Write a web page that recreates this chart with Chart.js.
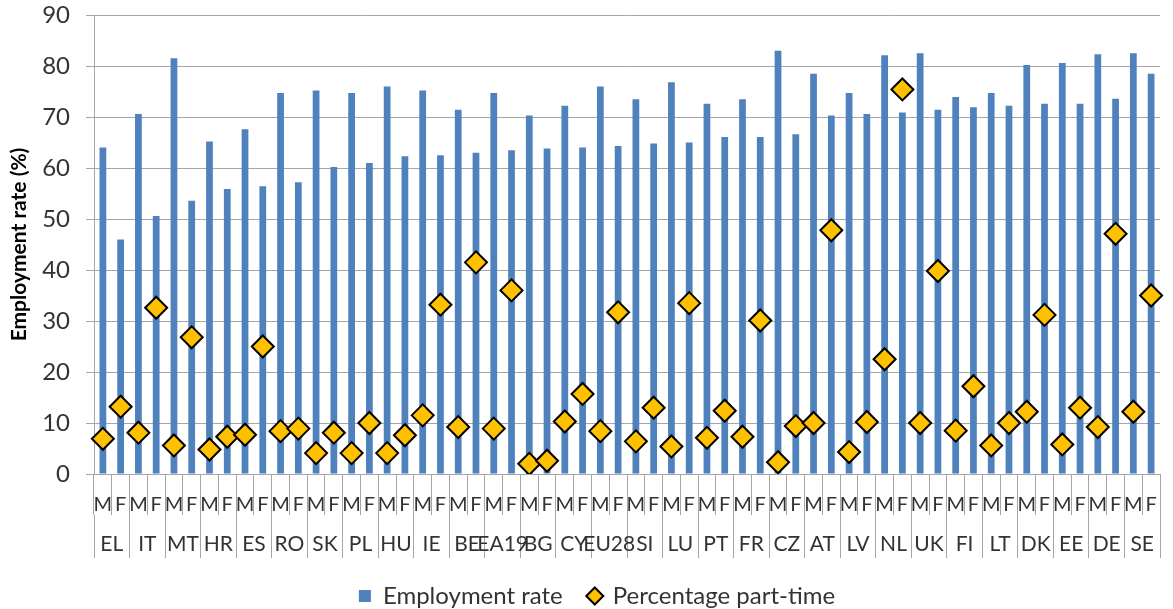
<!DOCTYPE html>
<html>
<head>
<meta charset="utf-8">
<script src="https://cdn.jsdelivr.net/npm/chart.js@4/dist/chart.umd.min.js"></script>
<style>
  html, body { margin: 0; padding: 0; background: #ffffff; }
  canvas { display: block; }
</style>
</head>
<body>
<canvas id="chart" width="1173" height="609"></canvas>
<script>
// Countries, ordered by female employment rate
const countries = ['EL','IT','MT','HR','ES','RO','SK','PL','HU','IE','BE','EA19','BG','CY','EU28',
                   'SI','LU','PT','FR','CZ','AT','LV','NL','UK','FI','LT','DK','EE','DE','SE'];
const sexes = ['M', 'F'];

// Employment rate (%)
const employmentMen   = [64.0,70.6,81.5,65.2,67.6,74.7,75.2,74.7,76.0,75.2,71.4,74.7,70.3,72.2,76.0,
                         73.5,76.8,72.6,73.5,83.0,78.5,74.7,82.1,82.5,73.9,74.7,80.2,80.6,82.3,82.5];
const employmentWomen = [46.0,50.6,53.6,55.9,56.4,57.2,60.2,61.0,62.3,62.5,63.0,63.5,63.8,64.0,64.3,
                         64.8,65.0,66.1,66.1,66.6,70.3,70.6,70.9,71.4,71.9,72.2,72.6,72.6,73.6,78.5];

// Share of employed working part-time (%)
const partTimeMen   = [6.9,8.1,5.6,4.8,7.7,8.4,4.1,4.1,4.1,11.5,9.2,8.9,2.0,10.3,8.4,
                       6.4,5.4,7.1,7.3,2.3,10.0,4.3,22.5,10.0,8.5,5.6,12.2,5.8,9.2,12.2];
const partTimeWomen = [13.2,32.6,26.8,7.3,25.0,8.9,8.1,10.0,7.6,33.2,41.5,36.0,2.6,15.7,31.7,
                       13.0,33.5,12.4,30.1,9.4,47.8,10.2,75.4,39.8,17.2,10.0,31.2,13.0,47.1,35.0];

const yTicks = { min: 0, max: 90, step: 10 };

// One category per country and sex: M, F, M, F, ...
const labels = countries.flatMap(() => sexes);
const employment = countries.flatMap((c, i) => [employmentMen[i], employmentWomen[i]]);
const partTime = countries.flatMap((c, i) => [partTimeMen[i], partTimeWomen[i]]);

const FONT = "Lato, 'Open Sans', 'DejaVu Sans', sans-serif";
const TEXT = '#333333';
const GRID = '#a6a6a6';

Chart.defaults.font.family = FONT;
Chart.defaults.color = TEXT;

new Chart(document.getElementById('chart'), {
  type: 'bar',
  data: {
    labels: labels,
    datasets: [
      {
        type: 'bar',
        label: 'Employment rate',
        data: employment,
        backgroundColor: '#4f81bd',
        borderWidth: 0,
        barPercentage: 0.38,
        categoryPercentage: 1.0,
        pointStyle: 'rect',
        order: 1
      },
      {
        type: 'line',
        label: 'Percentage part-time',
        data: partTime,
        showLine: false,
        pointStyle: 'rectRot',
        pointRadius: 11,
        pointHoverRadius: 11,
        pointBackgroundColor: '#ffc000',
        pointBorderColor: '#000000',
        pointBorderWidth: 2,
        backgroundColor: '#ffc000',
        borderColor: '#000000',
        borderWidth: 1.5,
        order: 0
      }
    ]
  },
  options: {
    responsive: false,
    animation: false,
    events: [],
    layout: { padding: { top: 0, left: 24, right: 3, bottom: -9 } },
    plugins: {
      tooltip: { enabled: false },
      legend: {
        position: 'bottom',
        labels: {
          usePointStyle: true,
          boxWidth: 12,
          boxHeight: 12,
          padding: 26,
          color: TEXT,
          font: { size: 24, family: FONT },
          sort: (a, b) => a.datasetIndex - b.datasetIndex
        }
      }
    },
    scales: {
      y: {
        min: yTicks.min,
        max: yTicks.max,
        afterFit: (scale) => {
          scale.width = 70;
          scale.paddingTop = 15;
          scale.paddingBottom = 0;
        },
        ticks: { stepSize: yTicks.step, padding: 16, color: TEXT, font: { size: 24 } },
        grid: { color: GRID, lineWidth: 1, tickLength: 8 },
        border: { color: GRID, width: 1 },
        title: {
          display: true,
          text: 'Employment rate (%)',
          color: '#000000',
          font: { size: 21, weight: 'bold', lineHeight: 1.2 },
          padding: { top: -17, bottom: 0 }
        }
      },
      x: {
        weight: 0,
        offset: true,
        afterFit: (scale) => { scale.height = 41; },
        ticks: { autoSkip: false, maxRotation: 0, minRotation: 0, padding: -22, color: TEXT, font: { size: 20 } },
        grid: { offset: true, drawOnChartArea: false, color: GRID, lineWidth: 1, tickLength: 41 },
        border: { color: GRID, width: 1 }
      },
      countries: {
        type: 'category',
        position: 'bottom',
        weight: 1,
        labels: countries,
        offset: true,
        afterFit: (scale) => { scale.height = 43; },
        ticks: { autoSkip: false, maxRotation: 0, minRotation: 0, padding: -26, color: TEXT, font: { size: 21 } },
        grid: { offset: true, drawOnChartArea: false, color: GRID, lineWidth: 1, tickLength: 43 },
        border: { display: false }
      }
    }
  }
});
</script>
</body>
</html>
